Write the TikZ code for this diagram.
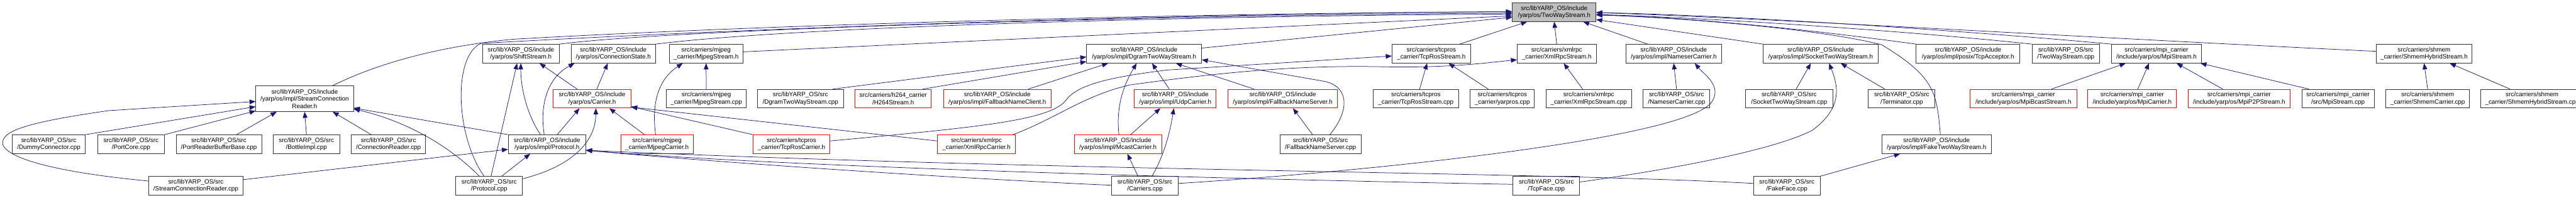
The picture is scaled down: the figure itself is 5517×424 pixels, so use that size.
\documentclass[tikz,border=0pt]{standalone}
\usepackage{fontspec}
\setmainfont{Liberation Sans}
\usepackage{xcolor}
\usepackage{tikz}
\usetikzlibrary{shapes,arrows.meta,positioning}

\definecolor{edgeblue}{HTML}{191970}
\newcommand{\graphfont}{\fontsize{13.3}{15.5}\selectfont}

\begin{document}
\begin{tikzpicture}[
    x=1pt, y=-1pt,
    box/.style={rectangle, draw=black!80, line width=1.1pt, minimum height=40pt, inner sep=0pt, align=center, font=\graphfont},
    redbox/.style={box, draw=red},
    rootbox/.style={box, fill=black!25},
    arrow/.style={-{Triangle[length=13pt,width=10pt]}, draw=edgeblue, line width=1pt}
]
\path[use as bounding box, fill=white] (0,0) rectangle (5517,424);

% Root
\node[rootbox, minimum width=179pt] (root) at (3328.5,26) {src/libYARP\_OS/include\\/yarp/os/TwoWayStream.h};

% First row
\node[box, minimum width=165pt] (shift) at (1115.5,115) {src/libYARP\_OS/include\\/yarp/os/ShiftStream.h};
\node[box, minimum width=181pt, right=24pt of shift] (connstate) {src/libYARP\_OS/include\\/yarp/os/ConnectionState.h};
\node[box, minimum width=158pt, right=28pt of connstate] (mjpegh) {src/carriers/mjpeg\\\_carrier/MjpegStream.h};
\node[box, minimum width=246pt, right=735pt of mjpegh] (dgramh) {src/libYARP\_OS/include\\/yarp/os/impl/DgramTwoWayStream.h};
\node[box, minimum width=168pt, right=407pt of dgramh] (tcprosh) {src/carriers/tcpros\\\_carrier/TcpRosStream.h};
\node[box, minimum width=169pt, right=99pt of tcprosh] (xmlrpch) {src/carriers/xmlrpc\\\_carrier/XmlRpcStream.h};
\node[box, minimum width=204pt, right=63pt of xmlrpch] (nameserh) {src/libYARP\_OS/include\\/yarp/os/impl/NameserCarrier.h};
\node[box, minimum width=247pt, right=88pt of nameserh] (socketh) {src/libYARP\_OS/include\\/yarp/os/impl/SocketTwoWayStream.h};
\node[box, minimum width=222pt, right=80pt of socketh] (acceptor) {src/libYARP\_OS/include\\/yarp/os/impl/posix/TcpAcceptor.h};
\node[box, minimum width=145pt, right=25pt of acceptor] (twscpp) {src/libYARP\_OS/src\\/TwoWayStream.cpp};
\node[box, minimum width=193pt, right=24pt of twscpp] (mpih) {src/carriers/mpi\_carrier\\/include/yarp/os/MpiStream.h};
\node[box, minimum width=205pt, right=373pt of mpih] (shmemh) {src/carriers/shmem\\\_carrier/ShmemHybridStream.h};

% Second row
\node[box, minimum width=209pt, minimum height=55pt] (scrh) at (652.5,211.5) {src/libYARP\_OS/include\\/yarp/os/impl/StreamConnection\\Reader.h};
\node[redbox, minimum width=166pt, right=427pt of scrh] (carrierh) {src/libYARP\_OS/include\\/yarp/os/Carrier.h};
\node[box, minimum width=171pt, right=75pt of carrierh] (mjpegcpp) {src/carriers/mjpeg\\\_carrier/MjpegStream.cpp};
\node[box, minimum width=184pt, right=23pt of mjpegcpp] (dgramcpp) {src/libYARP\_OS/src\\/DgramTwoWayStream.cpp};
\node[redbox, minimum width=163pt, right=24pt of dgramcpp] (h264) {src/carriers/h264\_carrier\\/H264Stream.h};
\node[redbox, minimum width=231pt, right=25pt of h264] (fbclient) {src/libYARP\_OS/include\\/yarp/os/impl/FallbackNameClient.h};
\node[redbox, minimum width=175pt, right=177pt of fbclient] (udp) {src/libYARP\_OS/include\\/yarp/os/impl/UdpCarrier.h};
\node[redbox, minimum width=235pt, right=24pt of udp] (fbserverh) {src/libYARP\_OS/include\\/yarp/os/impl/FallbackNameServer.h};
\node[box, minimum width=183pt, right=75pt of fbserverh] (tcproscpp) {src/carriers/tcpros\\\_carrier/TcpRosStream.cpp};
\node[box, minimum width=137pt, right=24pt of tcproscpp] (yarpros) {src/carriers/tcpros\\\_carrier/yarpros.cpp};
\node[box, minimum width=183pt, right=24pt of yarpros] (xmlrpccpp) {src/carriers/xmlrpc\\\_carrier/XmlRpcStream.cpp};
\node[box, minimum width=143pt, right=24pt of xmlrpccpp] (nameserpp) {src/libYARP\_OS/src\\/NameserCarrier.cpp};
\node[box, minimum width=187pt, right=75pt of nameserpp] (socketcpp) {src/libYARP\_OS/src\\/SocketTwoWayStream.cpp};
\node[box, minimum width=143pt, right=75pt of socketcpp] (terminator) {src/libYARP\_OS/src\\/Terminator.cpp};
\node[redbox, minimum width=228pt, right=74pt of terminator] (mpibcast) {src/carriers/mpi\_carrier\\/include/yarp/os/MpiBcastStream.h};
\node[redbox, minimum width=190pt, right=23pt of mpibcast] (mpicarrier) {src/carriers/mpi\_carrier\\/include/yarp/os/MpiCarrier.h};
\node[redbox, minimum width=218pt, right=24pt of mpicarrier] (mpip2p) {src/carriers/mpi\_carrier\\/include/yarp/os/MpiP2PStream.h};
\node[box, minimum width=155pt, right=24pt of mpip2p] (mpicpp) {src/carriers/mpi\_carrier\\/src/MpiStream.cpp};
\node[box, minimum width=179pt, right=24pt of mpicpp] (shmemcarrier) {src/carriers/shmem\\\_carrier/ShmemCarrier.cpp};
\node[box, minimum width=220pt, right=23pt of shmemcarrier] (shmemcpp) {src/carriers/shmem\\\_carrier/ShmemHybridStream.cpp};

% Third row
\node[box, minimum width=157pt] (dummy) at (104.5,309) {src/libYARP\_OS/src\\/DummyConnector.cpp};
\node[box, minimum width=143pt, right=25pt of dummy] (portcore) {src/libYARP\_OS/src\\/PortCore.cpp};
\node[box, minimum width=183pt, right=24pt of portcore] (prbb) {src/libYARP\_OS/src\\/PortReaderBufferBase.cpp};
\node[box, minimum width=142pt, right=24pt of prbb] (bottle) {src/libYARP\_OS/src\\/BottleImpl.cpp};
\node[box, minimum width=159pt, right=24pt of bottle] (connreader) {src/libYARP\_OS/src\\/ConnectionReader.cpp};
\node[box, minimum width=166pt, right=176pt of connreader] (protocolh) {src/libYARP\_OS/include\\/yarp/os/impl/Protocol.h};
\node[redbox, minimum width=155pt, right=74pt of protocolh] (mjpegcarrier) {src/carriers/mjpeg\\\_carrier/MjpegCarrier.h};
\node[redbox, minimum width=165pt, right=127pt of mjpegcarrier] (tcproscarrier) {src/carriers/tcpros\\\_carrier/TcpRosCarrier.h};
\node[redbox, minimum width=167pt, right=229pt of tcproscarrier] (xmlrpccarrier) {src/carriers/xmlrpc\\\_carrier/XmlRpcCarrier.h};
\node[redbox, minimum width=187pt, right=125pt of xmlrpccarrier] (mcast) {src/libYARP\_OS/include\\/yarp/os/impl/McastCarrier.h};
\node[box, minimum width=174pt, right=252pt of mcast] (fbservercpp) {src/libYARP\_OS/src\\/FallbackNameServer.cpp};
\node[box, minimum width=235pt, right=1114pt of fbservercpp] (faketws) {src/libYARP\_OS/include\\/yarp/os/impl/FakeTwoWayStream.h};

% Fourth row
\node[box, minimum width=201pt] (scrcpp) at (419.5,398) {src/libYARP\_OS/src\\/StreamConnectionReader.cpp};
\node[box, minimum width=143pt, right=455pt of scrcpp] (protocolcpp) {src/libYARP\_OS/src\\/Protocol.cpp};
\node[box, minimum width=142pt, right=1261pt of protocolcpp] (carrierscpp) {src/libYARP\_OS/src\\/Carriers.cpp};
\node[box, minimum width=143pt, right=716pt of carrierscpp] (tcpface) {src/libYARP\_OS/src\\/TcpFace.cpp};
\node[box, minimum width=143pt, right=371pt of tcpface] (fakeface) {src/libYARP\_OS/src\\/FakeFace.cpp};

% Arrows into the root
\draw[arrow] ([xshift=60pt]scrh.north) .. controls (800,140) and (930,100) .. (1100,84) .. controls (1700,50) and (2600,28) .. ([yshift=1pt]root.west);
\draw[arrow] ([xshift=-11pt]protocolcpp.north) .. controls (975,290) and (970,120) .. (1030,93) .. controls (1700,55) and (2600,29) .. ([yshift=1pt]root.west);
\draw[arrow] (shift.north east) .. controls (1450,62) and (2500,32) .. ([yshift=-2pt]root.west);
\draw[arrow] (connstate.north east) .. controls (1700,58) and (2500,35) .. ([yshift=-4pt]root.west);
\draw[arrow] ([yshift=4pt]mjpegh.east) -- ([yshift=-8pt]root.west);
\draw[arrow] ([yshift=12pt]dgramh.east) -- ([yshift=-11pt]root.west);
\draw[arrow] ([xshift=61pt]tcprosh.north) -- ([xshift=-58pt]root.south);
\draw[arrow] (xmlrpch.north) -- (root.south);
\draw[arrow] ([xshift=-56pt]nameserh.north) -- ([xshift=62pt]root.south);
\draw[arrow] (socketh.north west) -- ([yshift=-16pt]root.east);
\draw[arrow] ([xshift=8pt]faketws.north) .. controls (4148,200) and (4145,165) .. (4030,96) .. controls (3900,62) and (3600,38) .. ([yshift=-6pt]root.east);
\draw[arrow] (acceptor.north west) .. controls (3850,60) and (3600,36) .. ([yshift=-6pt]root.east);
\draw[arrow] (twscpp.north west) .. controls (4100,68) and (3700,40) .. ([yshift=-5pt]root.east);
\draw[arrow] (mpih.north west) .. controls (4200,65) and (3700,32) .. ([yshift=-1pt]root.east);
\draw[arrow] ([yshift=5pt]shmemh.west) .. controls (4500,82) and (3800,40) .. ([yshift=-1pt]root.east);

% StreamConnectionReader.h
\draw[arrow] ([yshift=10pt]scrcpp.west) .. controls (150,372) and (20,345) .. (6,310) .. controls (0,280) and (60,262) .. (233,237) -- ([yshift=-6pt]scrh.west);
\draw[arrow] (dummy.north east) -- ([yshift=-17pt]scrh.west);
\draw[arrow] (portcore.north east) -- ([yshift=2pt]scrh.south west);
\draw[arrow] ([xshift=38pt]prbb.north) -- ([xshift=-60pt]scrh.south);
\draw[arrow] (bottle.north) -- (scrh.south);
\draw[arrow] ([xshift=-37pt]connreader.north) -- ([xshift=60pt]scrh.south);
\draw[arrow] (protocolh.north west) -- ([yshift=-20pt]scrh.east);
\draw[arrow] ([xshift=-21pt]protocolcpp.north) .. controls (970,320) and (880,262) .. ([yshift=-22pt]scrh.east);

% Protocol.h
\draw[arrow] ([yshift=13pt]scrcpp.east) -- ([yshift=-11pt]protocolh.west);
\draw[arrow] ([xshift=27pt]protocolcpp.north) -- ([xshift=-36pt]protocolh.south);
\draw[arrow] ([yshift=1pt]carrierscpp.west) .. controls (2000,380) and (1500,345) .. ([yshift=-13pt]protocolh.east);
\draw[arrow] ([yshift=3pt]tcpface.west) .. controls (2700,385) and (1700,360) .. ([yshift=-13pt]protocolh.east);
\draw[arrow] ([yshift=5pt]fakeface.west) .. controls (3300,368) and (2300,368) .. ([yshift=-13pt]protocolh.east);

% ShiftStream.h, ConnectionState.h, Carrier.h
\draw[arrow] ([xshift=4pt]protocolcpp.north) -- ([xshift=-8pt]shift.south);
\draw[arrow] ([xshift=-14pt]protocolh.north) .. controls (1125,240) and (1115,180) .. (shift.south);
\draw[arrow] ([xshift=-32pt]carrierh.north) -- ([xshift=40pt]shift.south);
\draw[arrow] ([xshift=-6pt]protocolh.north) .. controls (1155,220) and (1175,165) .. ([xshift=-83pt]connstate.south);
\draw[arrow] ([xshift=10pt]carrierh.north) -- ([xshift=-12pt]connstate.south);
\draw[arrow] ([xshift=22pt]protocolh.north) -- ([xshift=-27pt]carrierh.south);
\draw[arrow] ([yshift=15pt]protocolcpp.east) .. controls (1230,355) and (1276,300) .. ([xshift=8pt]carrierh.south);
\draw[arrow] ([xshift=-27pt]mjpegcarrier.north) -- ([xshift=37pt]carrierh.south);
\draw[arrow] (tcproscarrier.north west) -- ([yshift=-17pt]carrierh.east);
\draw[arrow] ([yshift=7pt]xmlrpccarrier.west) -- ([yshift=-18pt]carrierh.east);

% MjpegStream.h
\draw[arrow] (mjpegcpp.north) -- (mjpegh.south);
\draw[arrow] ([xshift=-3pt]mjpegcarrier.north) .. controls (1395,220) and (1410,170) .. ([xshift=-50pt]mjpegh.south);

% DgramTwoWayStream.h
\draw[arrow] ([xshift=69pt]dgramcpp.north) -- ([yshift=-7pt]dgramh.west);
\draw[arrow] ([xshift=63pt]h264.north) -- ([yshift=-17pt]dgramh.west);
\draw[arrow] ([xshift=66pt]fbclient.north) -- ([xshift=-77pt]dgramh.south);
\draw[arrow] ([xshift=2pt]mcast.north) .. controls (2390,230) and (2405,185) .. ([xshift=-16pt]dgramh.south);
\draw[arrow] ([xshift=-13pt]udp.north) -- ([xshift=17pt]dgramh.south);
\draw[arrow] ([xshift=-61pt]fbserverh.north) -- ([xshift=68pt]dgramh.south);
\draw[arrow] ([xshift=20pt]fbservercpp.north) .. controls (2885,245) and (2895,190) .. (2840,175) -- ([yshift=-13pt]dgramh.east);

% UdpCarrier.h, McastCarrier.h, FallbackNameServer.h
\draw[arrow] ([xshift=27pt]mcast.north) -- ([xshift=-32pt]udp.south);
\draw[arrow] ([xshift=15pt]carrierscpp.north) .. controls (2495,330) and (2506,280) .. ([xshift=-3pt]udp.south);
\draw[arrow] ([xshift=-15pt]carrierscpp.north) -- ([xshift=20pt]mcast.south);
\draw[arrow] ([xshift=-17pt]fbservercpp.north) -- ([xshift=22pt]fbserverh.south);

% TcpRosStream.h, XmlRpcStream.h
\draw[arrow] ([yshift=7pt]tcproscarrier.east) .. controls (2100,272) and (2255,258) .. (2285,212) .. controls (2312,180) and (2380,165) .. (2500,150) -- ([yshift=-5pt]tcprosh.west);
\draw[arrow] ([xshift=78pt]xmlrpccarrier.north) .. controls (2260,255) and (2320,205) .. (2420,182) .. controls (2650,150) and (2800,140) .. (2960,143) .. controls (3100,146) and (3180,135) .. ([yshift=-13pt]xmlrpch.west);
\draw[arrow] ([xshift=8pt]tcproscpp.north) -- ([xshift=-9pt]tcprosh.south);
\draw[arrow] ([xshift=-30pt]yarpros.north) -- ([xshift=37pt]tcprosh.south);
\draw[arrow] ([xshift=-13pt]xmlrpccpp.north) -- ([xshift=15pt]xmlrpch.south);

% NameserCarrier.h
\draw[arrow] (nameserpp.north) -- (nameserh.south);
\draw[arrow] ([yshift=5pt]carrierscpp.east) .. controls (2900,370) and (3600,300) .. (3665,220) .. controls (3690,185) and (3650,160) .. ([xshift=45pt]nameserh.south);

% SocketTwoWayStream.h, FakeTwoWayStream.h
\draw[arrow] ([xshift=15pt]socketcpp.north) -- ([xshift=-21pt]socketh.south);
\draw[arrow] ([xshift=-36pt]terminator.north) -- ([xshift=43pt]socketh.south);
\draw[arrow] ([yshift=8pt]tcpface.east) .. controls (3600,360) and (3800,320) .. (3880,280) .. controls (3950,230) and (3935,180) .. ([xshift=18pt]socketh.south);
\draw[arrow] (fakeface.north east) -- ([xshift=-78pt]faketws.south);

% MpiStream.h
\draw[arrow] ([xshift=60pt]mpibcast.north) -- ([xshift=-66pt]mpih.south);
\draw[arrow] ([xshift=12pt]mpicarrier.north) -- ([xshift=-16pt]mpih.south);
\draw[arrow] ([xshift=-35pt]mpip2p.north) -- ([xshift=43pt]mpih.south);
\draw[arrow] ([xshift=-62pt]mpicpp.north) -- ([xshift=-3pt]mpih.south east);

% ShmemHybridStream.h
\draw[arrow] (shmemcarrier.north) -- (shmemh.south);
\draw[arrow] ([xshift=-47pt]shmemcpp.north) -- ([xshift=55pt]shmemh.south);

\end{tikzpicture}
\end{document}
